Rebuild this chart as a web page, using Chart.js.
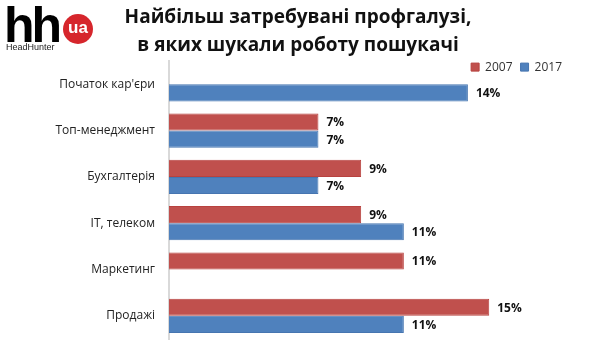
<!DOCTYPE html>
<html>
<head>
<meta charset="utf-8">
<script src="https://cdn.jsdelivr.net/npm/chart.js@4"></script>
<style>
  body { margin: 0; background: #fff; }
  #wrap { position: relative; width: 600px; height: 344px; }
  #logo { position: absolute; left: 4px; top: 2px; font-family: "Liberation Sans", Arial, sans-serif; }
  #logo .hh { position: absolute; left: 0; top: -6px; font-size: 50px; font-weight: bold; letter-spacing: -3px; color: #000; }
  #logo .ua { position: absolute; left: 59px; top: 12px; width: 30px; height: 30px; border-radius: 50%; background: #d6262c;
              color: #fff; font-size: 17px; font-weight: bold; text-align: center; line-height: 27px; }
  #logo .hh-name { position: absolute; left: 2px; top: 40px; font-size: 9px; color: #222; }
</style>
</head>
<body>
<div id="wrap">
  <canvas id="myChart" width="600" height="344"></canvas>
  <div id="logo"><span class="hh">hh</span><span class="ua">ua</span><span class="hh-name">HeadHunter</span></div>
</div>
<script>
var categories = ["Початок кар'єри", "Топ-менеджмент", "Бухгалтерія", "IT, телеком", "Маркетинг", "Продажі"];
var values2007 = [null, 7, 9, 9, 11, 15];
var values2017 = [14, 7, 7, 11, null, 11];
var seriesNames = ["2007", "2017"];

// value labels at the end of each bar
var barLabels = {
    id: 'barLabels',
    afterDatasetsDraw: function (chart) {
        var ctx = chart.ctx;
        ctx.save();
        ctx.font = "bold 12px 'Open Sans'";
        ctx.fillStyle = "#111";
        ctx.textBaseline = "middle";
        chart.data.datasets.forEach(function (ds, i) {
            chart.getDatasetMeta(i).data.forEach(function (bar, j) {
                if (ds.data[j] == null) return;
                ctx.fillText(ds.data[j] + "%", bar.x + 8, bar.y + 1);
            });
        });
        ctx.restore();
    }
};

// legend drawn over the top right of the plot area, takes no space
var flatLegend = {
    id: 'flatLegend',
    beforeInit: function (chart) {
        var lg = chart.legend;
        var fit = lg.fit;
        lg.fit = function () {
            fit.call(this);
            this.height = 0;
        };
        lg.draw = function () {
            var ctx = this.ctx;
            ctx.save();
            ctx.translate(-26, -8);
            this._draw();
            ctx.restore();
        };
    }
};

window.onload = function ()
{
    var canvasP = document.getElementById("myChart");
    var ctxP = canvasP.getContext('2d');
    new Chart(ctxP, {
        type: 'bar',
        data: {
            labels: categories,
            datasets: [{
                label: seriesNames[0],
                data: values2007,
                backgroundColor: "#c0504d",
                borderColor: "#b8423f",
                borderWidth: 1
            }, {
                label: seriesNames[1],
                data: values2017,
                backgroundColor: "#4f81bd",
                borderColor: "#4675b0",
                borderWidth: 1
            }]
        },
        options: {
            indexAxis: 'y',
            responsive: false,
            animation: false,
            categoryPercentage: 0.74,
            barPercentage: 1,
            layout: { padding: { left: 0, right: 4, top: 0, bottom: 5 } },
            plugins: {
                title: {
                    display: true,
                    text: ["Найбільш затребувані профгалузі,", "в яких шукали роботу пошукачі"],
                    font: { family: "'Open Sans'", size: 19, weight: 'bold', lineHeight: 1.45 },
                    color: "#111",
                    padding: { top: 4, bottom: 2 }
                },
                legend: {
                    position: 'top',
                    align: 'end',
                    labels: {
                        boxWidth: 8,
                        boxHeight: 8,
                        color: "#333",
                        font: { family: "'Open Sans'", size: 12 },
                        padding: 8
                    }
                },
                tooltip: { enabled: false }
            },
            scales: {
                x: {
                    min: 0,
                    max: 20,
                    display: false
                },
                y: {
                    grid: { display: false },
                    border: { color: "#d9d9d9", width: 2 },
                    ticks: {
                        color: "#222",
                        font: { family: "'Open Sans'", size: 12 },
                        padding: 6
                    },
                    afterFit: function (scale) {
                        scale.width = 169;
                        scale.paddingTop = 0;
                        scale.paddingBottom = 0;
                    }
                }
            }
        },
        plugins: [barLabels, flatLegend]
    });
};
</script>
</body>
</html>
